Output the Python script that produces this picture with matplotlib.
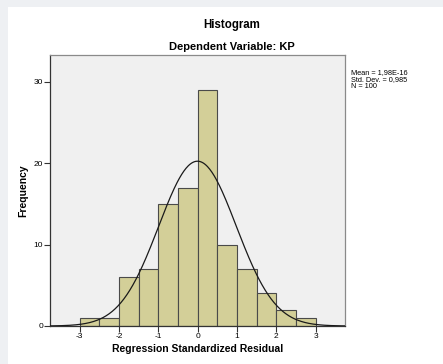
import numpy as np
import matplotlib
matplotlib.use("Agg")
import matplotlib.pyplot as plt
from matplotlib.patches import Rectangle

# histogram of residuals, bin width 0.5 from -3 to 3
bin_edges = [-3.0, -2.5, -2.0, -1.5, -1.0, -0.5, 0.0, 0.5, 1.0, 1.5, 2.0, 2.5, 3.0]
counts = [1, 1, 6, 7, 15, 17, 29, 10, 7, 4, 2, 1]
mean = 1.98e-16
std = 0.985
n = 100
x_ticks = [-3, -2, -1, 0, 1, 2, 3]
y_ticks = [0, 10, 20, 30]

plt.rcParams['font.family'] = ['Liberation Sans', 'DejaVu Sans']
plt.rcParams['axes.unicode_minus'] = False

fig = plt.figure(figsize=(4.43, 3.64), dpi=100)
fig.patch.set_facecolor('#eef0f3')
fig.patches.append(Rectangle((8 / 443, 0), 1, 1 - 7 / 364, transform=fig.transFigure,
                             facecolor='white', edgecolor='none', zorder=-10))

ax = fig.add_axes([50 / 443, 1 - 326 / 364, 295 / 443, 271 / 364])
ax.set_facecolor('#f0f0f0')

widths = np.diff(bin_edges)
ax.bar(bin_edges[:-1], counts, width=widths, align='edge', color='#d3cf98',
       edgecolor='#4a4a4a', linewidth=0.8, zorder=2)

xs = np.linspace(-3.75, 3.75, 400)
pdf = np.exp(-0.5 * ((xs - mean) / std) ** 2) / (std * np.sqrt(2 * np.pi))
ax.plot(xs, n * 0.5 * pdf, color='#1a1a1a', linewidth=0.9, zorder=3)

ax.set_xlim(-3.75, 3.75)
ax.set_ylim(0, 33.3)
ax.set_xticks(x_ticks)
ax.set_yticks(y_ticks)
ax.tick_params(labelsize=6, length=4, width=0.8, color='#333333', pad=1)
for s in ax.spines.values():
    s.set_color('#8a8a8a')
    s.set_linewidth(0.9)
ax.spines['bottom'].set_color('#333333')
ax.spines['left'].set_color('#333333')

ax.set_xlabel('Regression Standardized Residual', fontsize=7.5, fontweight='bold', labelpad=3)
ax.set_ylabel('Frequency', fontsize=7.5, fontweight='bold', labelpad=4)

fig.text(232 / 443, 1 - 25 / 364, 'Histogram', ha='center', va='center',
         fontsize=8.3, fontweight='bold')
fig.text(232 / 443, 1 - 47 / 364, 'Dependent Variable: KP', ha='center', va='center',
         fontsize=8, fontweight='bold')
fig.text(351 / 443, 1 - 69 / 364, 'Mean = 1,98E-16\nStd. Dev. = 0,985\nN = 100',
         ha='left', va='top', fontsize=5.3, linespacing=1.05)

fig.savefig('out.png', dpi=100)
